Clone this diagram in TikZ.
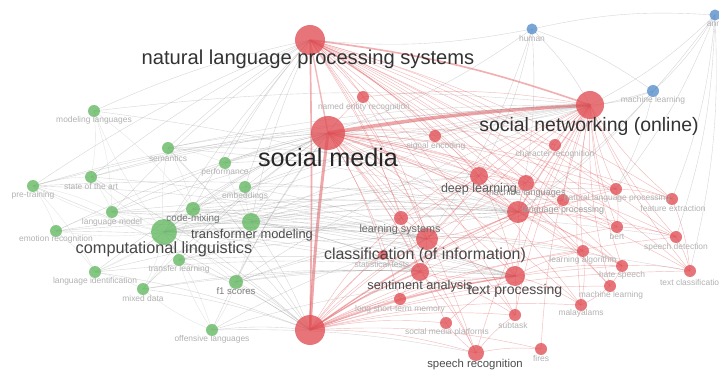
\documentclass[tikz,border=0pt]{standalone}
\usepackage{fontspec}
\setmainfont{Liberation Sans}
\pgfdeclarelayer{bg}
\pgfdeclarelayer{edges}
\pgfsetlayers{bg,edges,main}
\definecolor{nred}{RGB}{224,78,84}
\definecolor{ngreen}{RGB}{98,184,96}
\definecolor{nblue}{RGB}{84,142,204}
\tikzset{
  dot/.style={circle, inner sep=0pt, minimum size=#1*0.6mm, fill opacity=0.78},
  rdot/.style={dot=#1, fill=nred},
  gdot/.style={dot=#1, fill=ngreen},
  bdot/.style={dot=#1, fill=nblue},
  lab/.style={inner sep=0pt, font=\fontsize{#1}{#1}\selectfont},
  small/.style={lab=7.2, text=black!30},
  re/.style={draw=nred, draw opacity=0.38, line width=0.38pt},
  ge/.style={draw=black!45, draw opacity=0.36, line width=0.32pt},
  gg/.style={draw=ngreen!50!black!40, draw opacity=0.38, line width=0.3pt},
}
\begin{document}
\begin{tikzpicture}[x=0.03cm, y=-0.03cm]
\useasboundingbox (0,0) rectangle (719,370);
\begin{pgfonlayer}{bg}
\fill[white] (0,0) rectangle (719,370);
\end{pgfonlayer}

% ---- red cluster ----
\node[rdot=15] (nlps) at (310,40) {};
\node[rdot=17] (sm) at (328,133) {};
\node[rdot=14] (sn) at (590,105) {};
\node[rdot=15] (hub) at (310,330) {};
\node[rdot=6] (ner) at (363,97) {};
\node[rdot=6] (sig) at (435,136) {};
\node[rdot=6] (chr) at (555,145) {};
\node[rdot=9] (dl) at (479,176) {};
\node[rdot=8] (ml2) at (526,183) {};
\node[rdot=6] (lp) at (563,200) {};
\node[rdot=11] (big) at (518,212) {};
\node[rdot=6] (nlp) at (616,189) {};
\node[rdot=6] (fe) at (672,199) {};
\node[rdot=6] (bert) at (617,227) {};
\node[rdot=6] (sd) at (676,237) {};
\node[rdot=6] (la) at (583,251) {};
\node[rdot=6] (hs) at (622,266) {};
\node[rdot=6] (mlr) at (610,286) {};
\node[rdot=6] (mal) at (581,305) {};
\node[rdot=6] (tc) at (690,271) {};
\node[rdot=6] (sub) at (515,315) {};
\node[rdot=6] (fires) at (541,349) {};
\node[rdot=8] (sr) at (476,353) {};
\node[rdot=6] (smp) at (446,323) {};
\node[rdot=6] (lstm) at (400,299) {};
\node[rdot=9] (sa) at (420,272) {};
\node[rdot=10] (tp) at (515,276) {};
\node[rdot=5] (st) at (383,255) {};
\node[rdot=11] (cls) at (427,239) {};
\node[rdot=7] (ls) at (401,218) {};

% ---- blue cluster ----
\node[bdot=5.5] (human) at (532,29) {};
\node[bdot=5.5] (ann) at (715,15) {};
\node[bdot=6] (mlb) at (653,91) {};

% ---- green cluster ----
\node[gdot=6] (mlang) at (94,111) {};
\node[gdot=6] (sem) at (168,148) {};
\node[gdot=6] (perf) at (225,163) {};
\node[gdot=6] (sota) at (91,177) {};
\node[gdot=6] (pre) at (33,186) {};
\node[gdot=6] (emb) at (245,187) {};
\node[gdot=6] (lm) at (112,212) {};
\node[gdot=7] (code) at (193,209) {};
\node[gdot=9] (tm) at (251,222) {};
\node[gdot=13] (cl) at (164,232) {};
\node[gdot=6] (emo) at (56,231) {};
\node[gdot=6] (tl) at (179,260) {};
\node[gdot=6] (li) at (95,272) {};
\node[gdot=7] (f1) at (236,282) {};
\node[gdot=6] (md) at (143,289) {};
\node[gdot=6] (off) at (212,330) {};

% ---- links ----
\begin{pgfonlayer}{edges}
% strongest links
\draw[re, line width=3pt, draw opacity=0.5] (sm.center) to[bend left=3] (sn.center);
\draw[re, line width=2.5pt, draw opacity=0.5] (sm.center) to[bend right=2] (hub.center);
\draw[re, line width=1.4pt, draw opacity=0.45] (nlps.center) to[bend left=1] (hub.center);
\draw[re, line width=1.4pt, draw opacity=0.45] (nlps.center) to[bend left=6] (sn.center);
\draw[re, line width=1.2pt, draw opacity=0.4] (nlps.center) to (sm.center);
\draw[re, line width=1.3pt, draw opacity=0.4] (hub.center) to[bend left=6] (sa.center);
\draw[re, line width=1.3pt, draw opacity=0.4] (hub.center) to[bend left=6] (tp.center);
\draw[re, line width=1pt, draw opacity=0.4] (hub.center) to[bend left=6] (big.center);
\draw[re, line width=1pt, draw opacity=0.4] (sn.center) to[bend right=4] (big.center);
\draw[re, line width=0.8pt, draw opacity=0.4] (sm.center) to[bend left=4] (big.center);
% red hubs
\foreach \b in {ner,sig,chr,dl,ml2,lp,big,nlp,fe,bert,sd,la,hs,mlr,tc,cls,tp,sa,ls,sr,sub,mal}
  \draw[re] (nlps.center) to[bend left=8] (\b.center);
\foreach \b in {ner,sig,chr,dl,ml2,lp,nlp,fe,sd,tc,bert,hs,cls,tp,sa,ls,sr,smp,lstm,st,sub,la,mal}
  \draw[re] (sm.center) to[bend left=8] (\b.center);
\foreach \b in {ner,sig,chr,dl,ml2,lp,nlp,fe,sd,bert,tc,la,hs,mlr,mal,tp,cls,sa,ls,sub,fires,sr}
  \draw[re] (sn.center) to[bend right=8] (\b.center);
\foreach \b in {cls,ml2,dl,lp,nlp,la,hs,mlr,mal,sub,fires,sr,smp,lstm,st,ls,bert,tc,sd}
  \draw[re] (hub.center) to[bend left=8] (\b.center);
\foreach \a/\b in {big/dl,big/ml2,big/lp,big/cls,big/tp,big/sa,tp/sa,tp/cls,cls/sa,dl/ml2,dl/ls,
    sr/sub,sr/fires,sr/smp,tp/sub,tp/mal,tp/hs,tp/la,lp/nlp,nlp/fe,nlp/bert,bert/sd,sd/tc,hs/mlr,
    hs/tc,la/mal,mlr/mal,big/bert,big/hs,big/mlr,chr/ml2,sig/dl,ner/cls,ls/cls,st/sa,lstm/sa,
    lstm/tp,smp/tp,fe/tc,la/hs,dl/cls,dl/tp,ml2/nlp,big/fe,big/sd,cls/la,sa/sub,sa/sr}
  \draw[re] (\a.center) to[bend left=8] (\b.center);
% green to red
\foreach \a/\b in {mlang/nlps,sem/nlps,sota/nlps,pre/nlps,code/nlps,cl/nlps,tm/nlps,perf/nlps,
    emb/nlps,lm/nlps,cl/sm,tm/sm,code/sm,emb/sm,perf/sm,sem/sm,lm/sm,sota/sm,pre/sm,emo/sm,tl/sm,
    li/sm,md/sm,f1/sm,off/sm,cl/sn,tm/sn,code/sn,f1/sn,sem/sn,cl/hub,tm/hub,f1/hub,off/hub,md/hub,
    tl/hub,li/hub,code/hub,cl/cls,cl/sa,cl/tp,cl/dl,cl/big,tm/cls,tm/big,tm/dl,f1/sa,f1/cls,off/sr,
    lm/big,code/sa,emo/sa,pre/big,cl/lp,cl/la,cl/tc,tm/nlp,tm/sd,emb/big,perf/dl,sem/big,sota/cls,
    li/tp,md/sa,tl/cls,mlang/big,code/big,tm/tp,cl/ml2,emb/cls,f1/tp,tm/sa,lm/cls,pre/cls,
    pre/sn,emo/big,lm/sn,sota/sn,li/big,md/tp,off/tp,tl/tp,emb/sn,perf/sn,sem/dl,code/cls,
    code/tp,lm/tp,emo/cls,mlang/sn,tl/big,f1/big,off/cls,pre/hub,sota/hub,sem/hub}
  \draw[ge] (\a.center) to[bend left=6] (\b.center);
% within green
\foreach \a/\b in {cl/code,cl/tm,cl/lm,cl/emo,cl/li,cl/md,cl/tl,cl/f1,cl/sem,cl/pre,cl/sota,
    cl/mlang,cl/off,cl/emb,cl/perf,tm/code,tm/emb,tm/f1,tm/perf,tm/sem,tm/lm,tm/tl,code/lm,
    code/md,code/li,code/emb,pre/sota,pre/lm,pre/emo,pre/li,mlang/sota,mlang/lm,mlang/code,
    sem/perf,sem/code,emo/lm,emo/li,li/md,md/tl,f1/tl,f1/off,off/md,off/tl,sota/lm}
  \draw[gg] (\a.center) to[bend left=8] (\b.center);
% blue
\foreach \a/\b in {human/nlps,human/sn,human/sm,human/ann,human/mlb,human/dl,human/big,ann/sn,
    ann/mlb,ann/big,ann/fe,ann/nlp,ann/tc,ann/sd,mlb/sn,mlb/big,mlb/nlp,mlb/sm,human/cls}
  \draw[ge] (\a.center) to[bend left=8] (\b.center);
\end{pgfonlayer}

% ---- labels ----
\node[lab=17.2, text=black!80] (nlpsT) at (308,59) {natural language processing systems};
\node[lab=21.5, text=black!85] (smT) at (328,157) {social media};
\node[lab=16.6, text=black!80] (snT) at (589,126) {social networking (online)};
\node[lab=13.9, text=black!72] (clT) at (164,249) {computational linguistics};
\node[lab=13.6, text=black!72] (clsT) at (425,255) {classification (of information)};
\node[lab=11, text=black!70] (tmT) at (252,235) {transformer modeling};
\node[lab=10.9, text=black!70] (saT) at (420,286) {sentiment analysis};
\node[lab=12, text=black!70] (tpT) at (515,291) {text processing};
\node[lab=10.7, text=black!65] (dlT) at (479,189) {deep learning};
\node[lab=9.7, text=black!70] (srT) at (475,365) {speech recognition};
\node[lab=9.2, text=black!58] (lsT) at (400,230) {learning systems};
\node[lab=8.4, text=black!55] (codeT) at (193,219) {code-mixing};
\node[lab=8.2, text=black!50] (f1T) at (236,291) {f1 scores};
\node[lab=7.8, text=black!42] (ml2T) at (526,193) {machine languages};
\node[lab=7.6, text=black!38] (lpT) at (563,210) {language processing};

\node[small] (nerT) at (364,107) {named entity recognition};
\node[small] (sigT) at (436,146) {signal encoding};
\node[small] (chrT) at (555,154) {character recognition};
\node[small] (nlpT) at (617,198) {natural language processing};
\node[small] (feT) at (673,208) {feature extraction};
\node[small] (bertT) at (617,236) {bert};
\node[small] (sdT) at (676,247) {speech detection};
\node[small] (laT) at (583,260) {learning algorithm};
\node[small] (hsT) at (622,275) {hate speech};
\node[small] (mlrT) at (611,295) {machine learning};
\node[small] (malT) at (581,313) {malayalams};
\node[small] (tcT) at (692,282) {text classification};
\node[small] (subT) at (513,325) {subtask};
\node[small] (firesT) at (541,358) {fires};
\node[small] (smpT) at (447,332) {social media platforms};
\node[small] (lstmT) at (400,309) {long short-term memory};
\node[small] (stT) at (382,264) {statistical tests};

\node[small] (humanT) at (532,38) {human};
\node[small] (annT) at (714,24) {ann};
\node[small] (mlbT) at (653,100) {machine learning};

\node[small] (mlangT) at (94,120) {modeling languages};
\node[small] (semT) at (168,158) {semantics};
\node[small] (perfT) at (225,172) {performance};
\node[small] (sotaT) at (91,186) {state of the art};
\node[small] (preT) at (33,195) {pre-training};
\node[small] (embT) at (245,196) {embeddings};
\node[small] (lmT) at (112,222) {language model};
\node[small] (emoT) at (56,239) {emotion recognition};
\node[small] (tlT) at (179,269) {transfer learning};
\node[small] (liT) at (95,281) {language identification};
\node[small] (mdT) at (143,298) {mixed data};
\node[small] (offT) at (212,339) {offensive languages};
\end{tikzpicture}
\end{document}
